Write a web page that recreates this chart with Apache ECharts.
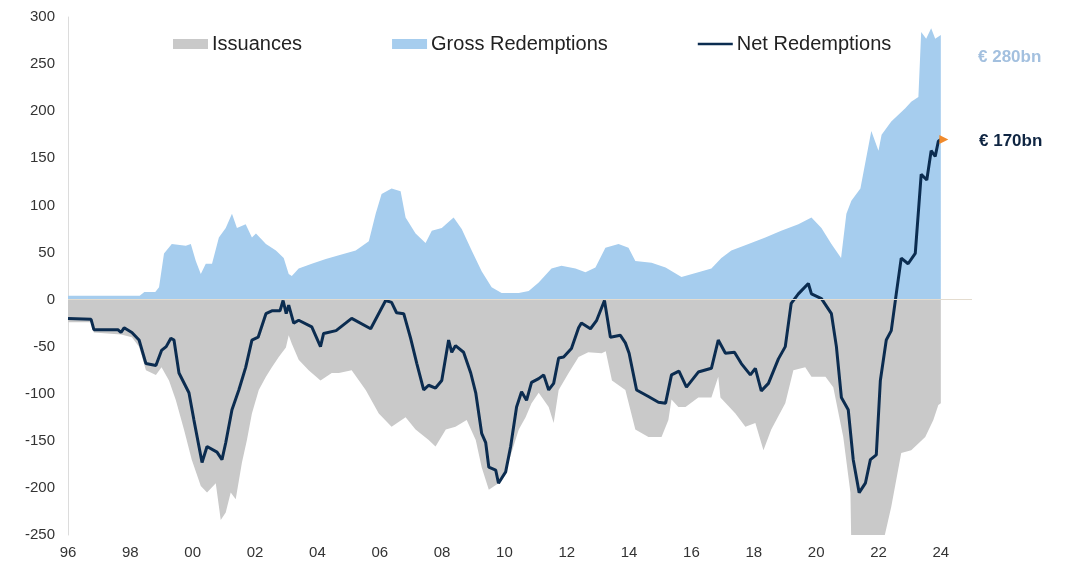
<!DOCTYPE html>
<html>
<head>
<meta charset="utf-8">
<script src="https://cdn.jsdelivr.net/npm/echarts@6/dist/echarts.min.js"></script>
<style>
html,body{margin:0;padding:0;background:#fff;}
#chart{width:1066px;height:565px;}
</style>
</head>
<body>
<div id="chart"></div>
<script>
// ---- data (EUR bn, decimal years) ----
const seriesNames = ['Issuances', 'Gross Redemptions', 'Net Redemptions'];

const grossYears = [1996.0,1998.3,1998.45,1998.8,1998.92,1999.08,1999.33,1999.78,1999.94,2000.1,2000.26,2000.42,2000.62,2000.84,2001.06,2001.26,2001.42,2001.7,2001.9,2002.03,2002.35,2002.67,2002.92,2003.08,2003.18,2003.4,2003.82,2004.27,2004.69,2005.23,2005.65,2005.87,2006.06,2006.38,2006.67,2006.83,2007.15,2007.47,2007.67,2007.99,2008.37,2008.63,2008.95,2009.27,2009.59,2009.91,2010.46,2010.78,2011.1,2011.51,2011.83,2012.28,2012.6,2012.92,2013.24,2013.66,2013.98,2014.2,2014.72,2015.17,2015.68,2016.22,2016.64,2016.96,2017.28,2017.83,2018.37,2018.88,2019.43,2019.85,2020.17,2020.49,2020.8,2020.97,2021.13,2021.42,2021.77,2022.0,2022.1,2022.41,2022.86,2023.05,2023.28,2023.37,2023.53,2023.69,2023.82,2024.0];
const grossValues = [4,4,8,8,13,49,59,57,59,41,27,38,38,66,76,91,76,80,66,70,59,52,44,27,25,33,38,43,47,52,62,91,112,118,115,87,70,60,73,76,87,75,52,30,13,7,7,9,18,33,36,33,29,34,55,59,55,41,39,34,24,29,33,44,52,59,66,73,80,87,76,59,44,91,105,118,179,158,175,189,203,210,215,284,277,288,277,281];

const issYears = [1996.0,1996.74,1996.83,1997.7,1998.05,1998.28,1998.5,1998.82,1999.0,1999.24,1999.46,1999.72,1999.97,2000.26,2000.46,2000.74,2000.9,2001.06,2001.22,2001.38,2001.58,2001.74,2001.9,2002.12,2002.35,2002.54,2002.76,2002.99,2003.08,2003.18,2003.4,2003.72,2004.1,2004.46,2004.69,2005.1,2005.55,2005.97,2006.38,2006.83,2007.15,2007.57,2007.79,2008.12,2008.43,2008.79,2009.08,2009.27,2009.5,2009.81,2010.13,2010.46,2010.68,2010.87,2011.1,2011.42,2011.58,2011.74,2012.06,2012.38,2012.69,2013.12,2013.25,2013.45,2013.88,2014.2,2014.62,2015.04,2015.26,2015.36,2015.58,2015.81,2016.22,2016.64,2016.86,2016.93,2017.41,2017.73,2018.05,2018.31,2018.56,2019.01,2019.27,2019.65,2019.85,2020.3,2020.55,2020.87,2021.1,2021.13,2022.1,2022.41,2022.73,2023.05,2023.5,2023.76,2023.92,2024.0];
const issValues = [-24,-24,-35,-37,-40,-50,-75,-80,-72,-86,-107,-138,-170,-198,-205,-195,-234,-226,-205,-212,-173,-149,-121,-96,-82,-72,-61,-51,-38,-47,-64,-75,-86,-78,-78,-75,-96,-121,-135,-125,-138,-149,-156,-138,-135,-128,-149,-178,-202,-195,-173,-138,-125,-110,-99,-114,-131,-96,-78,-61,-56,-57,-55,-86,-96,-138,-146,-146,-128,-106,-114,-114,-104,-104,-82,-104,-121,-135,-131,-160,-138,-110,-75,-72,-82,-82,-93,-146,-205,-265,-265,-220,-163,-160,-146,-128,-112,-110];

const netYears = [1996.0,1996.74,1996.83,1997.6,1997.7,1997.8,1998.05,1998.28,1998.5,1998.82,1999.0,1999.15,1999.3,1999.4,1999.56,1999.88,2000.04,2000.3,2000.46,2000.78,2000.94,2001.06,2001.26,2001.48,2001.7,2001.9,2002.1,2002.35,2002.54,2002.8,2002.9,2003.0,2003.08,2003.24,2003.4,2003.82,2004.1,2004.2,2004.6,2005.1,2005.71,2006.19,2006.38,2006.54,2006.77,2006.99,2007.19,2007.41,2007.57,2007.79,2007.99,2008.21,2008.31,2008.43,2008.69,2008.92,2009.08,2009.27,2009.4,2009.5,2009.72,2009.81,2010.04,2010.2,2010.39,2010.55,2010.71,2010.87,2011.1,2011.26,2011.42,2011.58,2011.74,2011.9,2012.15,2012.38,2012.47,2012.76,2012.96,2013.21,2013.4,2013.72,2013.88,2014.0,2014.24,2014.62,2014.94,2015.17,2015.36,2015.6,2015.84,2016.22,2016.64,2016.86,2017.09,2017.38,2017.6,2017.89,2018.05,2018.24,2018.47,2018.79,2019.01,2019.2,2019.43,2019.75,2019.85,2020.17,2020.49,2020.65,2020.81,2021.03,2021.19,2021.38,2021.58,2021.74,2021.93,2022.06,2022.25,2022.41,2022.57,2022.73,2022.95,2023.18,2023.37,2023.55,2023.69,2023.82,2023.92,2024.0];
const netValues = [-20,-21,-32,-32,-35,-30,-35,-43,-68,-70,-54,-50,-41,-43,-78,-99,-128,-173,-156,-162,-170,-152,-117,-96,-72,-43,-40,-15,-12,-12,-1,-15,-6,-25,-22,-29,-50,-36,-33,-20,-31,-1,-3,-14,-15,-41,-68,-96,-91,-94,-86,-43,-56,-49,-56,-78,-99,-142,-152,-178,-181,-195,-183,-156,-114,-98,-107,-88,-84,-80,-96,-89,-62,-61,-52,-30,-25,-31,-22,-1,-40,-38,-46,-57,-96,-103,-109,-110,-80,-76,-93,-77,-73,-43,-57,-56,-68,-80,-73,-97,-89,-63,-50,-4,6,17,6,1,-15,-50,-104,-117,-170,-205,-195,-170,-165,-86,-43,-33,6,44,38,49,133,127,158,152,168,170];

const latestNet = 170;
const latestGross = 280;
const yTicks = {min: -250, max: 300, interval: 50};
const xTicks = {min: 1996, max: 2025, interval: 2};

const pairs = (xs, ys) => xs.map((x, i) => [x, ys[i]]);
const FONT = "'Liberation Sans', Arial, sans-serif";

const chart = echarts.init(document.getElementById('chart'), null, {renderer: 'canvas'});
chart.setOption({
  backgroundColor: '#ffffff',
  animation: false,
  textStyle: {fontFamily: FONT},
  grid: {left: 68, right: 94, top: 17, bottom: 30, containLabel: false},
  legend: {
    left: 168, top: 29,
    itemWidth: 35, itemHeight: 10, itemGap: 90,
    textStyle: {fontSize: 20, color: '#222', fontFamily: FONT, padding: [0, 0, 0, -1]},
    data: [
      {name: seriesNames[0], icon: 'rect'},
      {name: seriesNames[1], icon: 'rect'},
      {name: seriesNames[2], icon: 'path://M0,0H40V3H0Z'}
    ]
  },
  xAxis: {
    type: 'value', min: xTicks.min, max: xTicks.max, interval: xTicks.interval,
    axisLine: {show: false, onZero: false},
    axisTick: {show: false},
    splitLine: {show: false},
    axisLabel: {
      fontSize: 15, color: '#333', margin: 10, fontFamily: FONT,
      formatter: v => (v <= 2024 ? String(v).slice(2) : '')
    }
  },
  yAxis: {
    type: 'value', min: yTicks.min, max: yTicks.max, interval: yTicks.interval,
    axisLine: {show: true, lineStyle: {color: '#dcdcdc', width: 1}},
    axisTick: {show: false},
    splitLine: {show: false},
    axisLabel: {fontSize: 15, color: '#333', margin: 13, fontFamily: FONT}
  },
  series: [
    {
      name: seriesNames[1], type: 'line', data: pairs(grossYears, grossValues),
      symbol: 'none', lineStyle: {width: 0}, itemStyle: {color: '#a6cdee'},
      areaStyle: {color: '#a6cdee', opacity: 1}, z: 1,
      markLine: {
        silent: true, symbol: 'none', label: {show: false},
        lineStyle: {color: '#e4dccf', width: 1, type: 'solid'},
        data: [{yAxis: 0}]
      }
    },
    {
      name: seriesNames[0], type: 'line', data: pairs(issYears, issValues),
      symbol: 'none', lineStyle: {width: 0}, itemStyle: {color: '#c9c9c9'},
      areaStyle: {color: '#c9c9c9', opacity: 1}, z: 2
    },
    {
      name: seriesNames[2], type: 'line', data: pairs(netYears, netValues),
      symbol: 'none', lineStyle: {width: 3, color: '#0b2c50'}, itemStyle: {color: '#0b2c50'}, z: 3,
      markPoint: {
        silent: true,
        symbol: 'triangle', symbolSize: [9, 9], symbolRotate: -90, symbolOffset: [3, 0],
        itemStyle: {color: '#f08a2c'},
        label: {show: false},
        data: [{coord: [netYears[netYears.length - 1], latestNet]}]
      }
    }
  ],
  graphic: [
    {type: 'text', left: 978, top: 49, style: {text: '€ ' + latestGross + 'bn', fill: '#a3c0df', font: "bold 17px " + FONT}},
    {type: 'text', left: 979, top: 133, style: {text: '€ ' + latestNet + 'bn', fill: '#0f2542', font: "bold 17px " + FONT}}
  ]
});
</script>
</body>
</html>
